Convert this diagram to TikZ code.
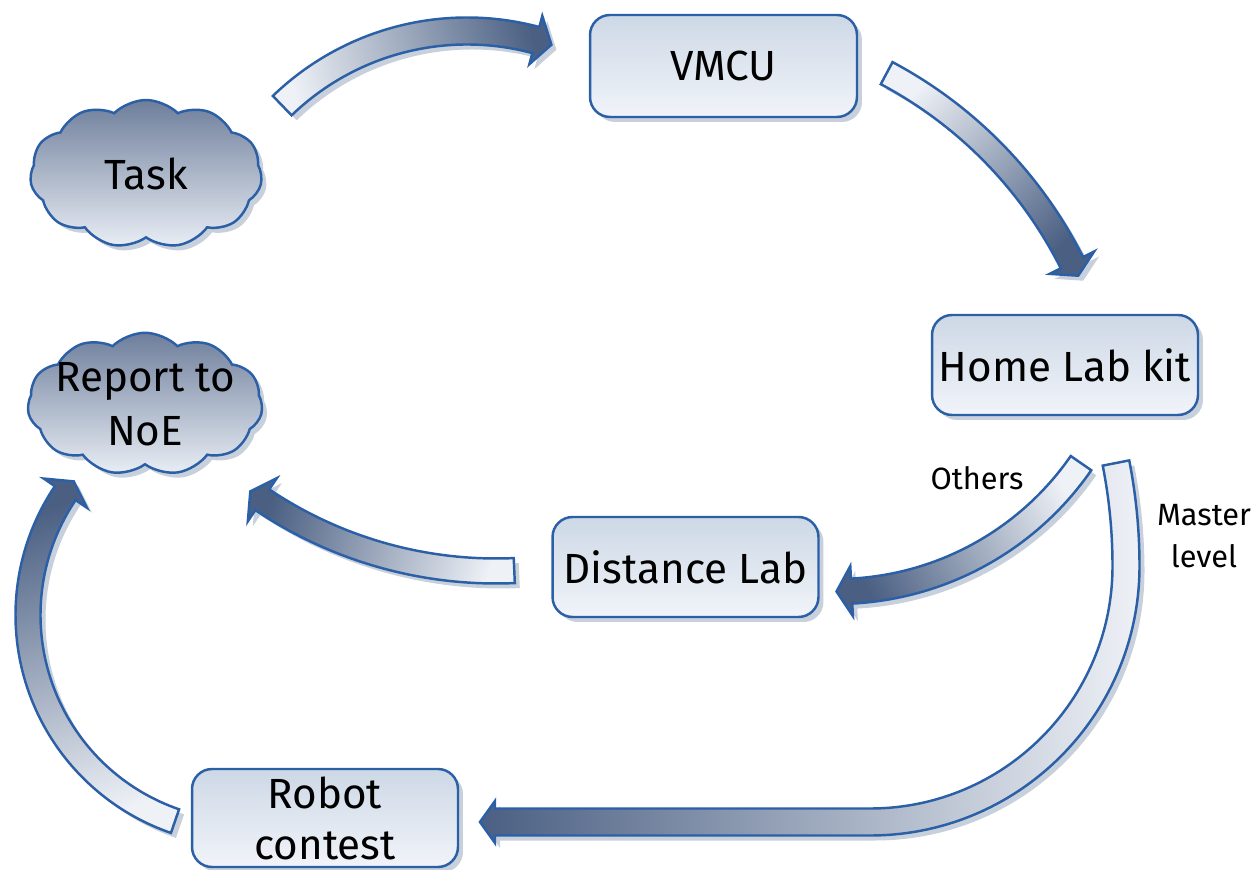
\documentclass[tikz,border=0pt]{standalone}
\usepackage{fontspec}
\setmainfont{Fira Sans}
\usetikzlibrary{calc,shapes.symbols,shadows}
\definecolor{bord}{RGB}{43,95,166}
\definecolor{boxtop}{RGB}{205,216,230}
\definecolor{boxbot}{RGB}{241,244,249}
\definecolor{cloudtop}{RGB}{110,126,155}
\definecolor{cloudbot}{RGB}{233,238,245}
\definecolor{arrdark}{RGB}{74,95,130}
\definecolor{arrlight}{RGB}{238,241,246}
\definecolor{shadowc}{RGB}{200,208,220}
\tikzset{
  shad/.style={drop shadow={shadow xshift=0.1cm, shadow yshift=-0.1cm, fill=shadowc, opacity=1}},
  box/.style={rectangle, rounded corners=0.4cm, draw=bord, line width=1.4pt,
    top color=boxtop, bottom color=boxbot, minimum width=5.32cm, minimum height=2cm,
    font=\fontsize{24}{31}\selectfont, align=center, shad},
  cloudbox/.style={cloud, cloud puffs=11, cloud puff arc=90, cloud ignores aspect,
    inner sep=0pt, draw=bord, line width=1.4pt, top color=cloudtop, bottom color=cloudbot, shad},
  cloudtext/.style={font=\fontsize{24}{31}\selectfont, align=center},
  arrowstyle/.style={draw=bord, line width=1.4pt, top color=arrdark, bottom color=arrlight, shad},
  lab/.style={font=\fontsize{17.5}{24}\selectfont, align=center}
}
% #1 cx, #2 cy, #3 r, #4 tail angle, #5 head base angle, #6 tip angle, #7 half body, #8 half head, #9 shading angle
\newcommand{\arcarrow}[9]{%
  \path[arrowstyle, shading angle=#9]
    ($(#1,#2)+(#4:#3+#7)$) arc[start angle=#4, end angle=#5, radius=#3+#7]
    -- ($(#1,#2)+(#5:#3+#8)$) -- ($(#1,#2)+(#6:#3)$) -- ($(#1,#2)+(#5:#3-#8)$)
    -- ($(#1,#2)+(#5:#3-#7)$) arc[start angle=#5, end angle=#4, radius=#3-#7] -- cycle;}
\begin{document}
\begin{tikzpicture}[x=0.02cm, y=0.02cm]
\useasboundingbox (0,0) rectangle (1257,869);

% clouds
\node[cloudbox, minimum width=4.64cm, minimum height=2.96cm] (task) at (146,695) {};
\node[cloudtext] (tasktext) at (task.center) {Task};
\node[cloudbox, minimum width=4.7cm, minimum height=2.85cm] (report) at (145,465) {};
\node[cloudtext] (reporttext) at (report.center) {Report to\\NoE};

% boxes
\node[box, minimum width=5.34cm, minimum height=2.04cm] (vmcu) at (723.5,803) {VMCU};
\node[box] (home) at (1065,504) {Home Lab kit};
\node[box] (dist) at (685.5,302) {Distance Lab};
\node[box, minimum height=1.96cm, font=\fontsize{24}{29}\selectfont] (robot) at (325,51) {Robot\\contest};

% labels
\node[lab] (others) at (977,391) {Others};
\node[lab] (master) at (1204,333) {Master\\level};

% block arrows
\arcarrow{467}{572}{266}{134}{75}{71.5}{13.5}{25}{-76}      % Task -> VMCU
\arcarrow{681.5}{410}{437}{62}{26.7}{24.8}{12.5}{25}{-136}  % VMCU -> Home Lab
\arcarrow{836}{575.5}{298}{-34.7}{-87}{-89.9}{12.5}{25}{119} % Home Lab -> Distance Lab
\arcarrow{496}{717}{419}{-87.5}{-123.9}{-125.9}{12.5}{26}{73} % Distance Lab -> Report
\arcarrow{246}{254}{218}{251}{146}{142.2}{12.5}{26}{17}     % Robot -> Report

% Home Lab -> Robot contest (Master level)
\path[arrowstyle, shading angle=90]
  ($(591,303)+(11.1:548.5)$) arc[start angle=11.1, end angle=0, radius=548.5]
  arc[start angle=0, end angle=-90, radius=269.5]
  -- (495,33.5) -- (495,26) -- (480,47) -- (495,68) -- (495,60.5) -- (870,60.5)
  arc[start angle=-90, end angle=0, radius=242.5]
  arc[start angle=0, end angle=11.1, radius=521.5] -- cycle;
\end{tikzpicture}
\end{document}
